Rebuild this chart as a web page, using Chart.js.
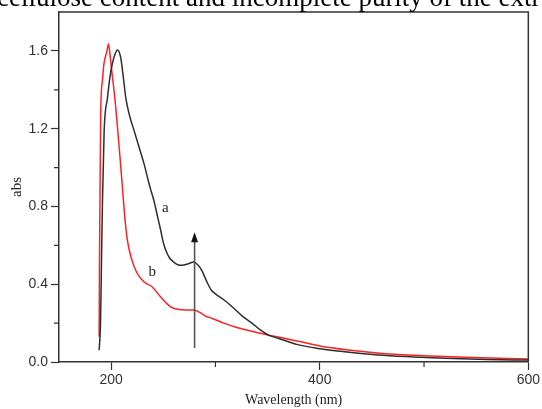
<!DOCTYPE html>
<html>
<head>
<meta charset="utf-8">
<script src="https://cdn.jsdelivr.net/npm/chart.js@4/dist/chart.umd.min.js"></script>
<style>
  body { margin: 0; background: #fff; }
  #wrap { position: relative; width: 542px; height: 409px; overflow: hidden; }
  #caption {
    position: absolute; left: -3px; top: -16px; white-space: nowrap;
    font: 27px/27px "Liberation Serif", "Times New Roman", serif; color: #000;
  }
  canvas { position: absolute; left: 0; top: 0; }
</style>
</head>
<body>
<div id="wrap">
  <canvas id="uv" width="542" height="409"></canvas>
  <div id="caption">cellulose content and incomplete purity of the extr</div>
</div>
<script>
// curve a (black)
const wavelengthA = [188.5, 189.8, 190.7, 191.7, 193.3, 196.5, 199, 201, 203.5, 206, 209, 212, 214, 218, 222, 226.5, 231.5, 235.5, 238, 241, 244, 247.4, 250, 252, 256, 260, 264, 268, 274, 279, 283, 287, 292, 296, 300, 308, 316, 325, 335, 343, 351, 360, 368, 380, 398, 420, 456, 490, 520, 560, 600];
const absA = [0.06, 0.2, 0.5, 0.83, 1.19, 1.36, 1.47, 1.53, 1.58, 1.605, 1.57, 1.45, 1.36, 1.26, 1.19, 1.11, 1.02, 0.935, 0.885, 0.83, 0.76, 0.68, 0.615, 0.58, 0.535, 0.514, 0.5, 0.497, 0.505, 0.514, 0.5, 0.47, 0.41, 0.37, 0.35, 0.32, 0.284, 0.24, 0.2, 0.165, 0.138, 0.122, 0.108, 0.088, 0.07, 0.055, 0.036, 0.026, 0.019, 0.013, 0.01];

// curve b (red)
const wavelengthB = [188.5, 188.8, 189.3, 190, 191.7, 193, 195, 196, 197.4, 198.5, 200.5, 203.5, 206.5, 209, 211.5, 213.5, 215.6, 219, 225, 232, 239.4, 247.4, 257, 265, 272, 279, 285, 291, 297, 308, 319, 335, 351, 368, 385, 400, 430, 460, 500, 540, 600];
const absB = [0.13, 0.5, 0.83, 1.28, 1.45, 1.53, 1.58, 1.6, 1.635, 1.6, 1.5, 1.36, 1.18, 1.02, 0.85, 0.72, 0.625, 0.54, 0.455, 0.41, 0.386, 0.335, 0.284, 0.27, 0.268, 0.267, 0.255, 0.235, 0.224, 0.2, 0.18, 0.158, 0.138, 0.12, 0.1, 0.082, 0.06, 0.044, 0.032, 0.024, 0.015];

const xMajorTicks = [200, 400, 600];
const xMinorTicks = [300, 500];
const yMajorTicks = [0, 0.4, 0.8, 1.2, 1.6];
const yMinorTicks = [0.2, 0.6, 1.0, 1.4];

const curveLabels = [
  { text: "a", x: 252, y: 0.79 },
  { text: "b", x: 239.4, y: 0.463 },
];
const arrowAt = { x: 280, from: 0.072, to: 0.667 };

function toPoints(xs, ys) {
  return xs.map((x, i) => ({ x: x, y: ys[i] }));
}

const axisColor = "#333";

const extras = {
  id: "extras",
  afterDraw(chart) {
    const ctx = chart.ctx;
    const area = chart.chartArea;
    const xs = chart.scales.x;
    const ys = chart.scales.y;
    ctx.save();
    // frame top + right
    ctx.strokeStyle = axisColor;
    ctx.lineWidth = 1.5;
    ctx.beginPath();
    ctx.moveTo(area.left, area.top);
    ctx.lineTo(area.right, area.top);
    ctx.lineTo(area.right, area.bottom);
    ctx.stroke();
    // minor ticks
    ctx.lineWidth = 1.2;
    ctx.beginPath();
    for (const v of xMinorTicks) {
      const px = xs.getPixelForValue(v);
      ctx.moveTo(px, area.bottom);
      ctx.lineTo(px, area.bottom + 5);
    }
    for (const v of yMinorTicks) {
      const py = ys.getPixelForValue(v);
      ctx.moveTo(area.left, py);
      ctx.lineTo(area.left - 5, py);
    }
    ctx.stroke();
    // arrow
    const ax = xs.getPixelForValue(arrowAt.x);
    const y0 = ys.getPixelForValue(arrowAt.from);
    const y1 = ys.getPixelForValue(arrowAt.to);
    ctx.strokeStyle = "#555";
    ctx.lineWidth = 1.6;
    ctx.beginPath();
    ctx.moveTo(ax, y0);
    ctx.lineTo(ax, y1 + 8);
    ctx.stroke();
    ctx.fillStyle = "#111";
    ctx.beginPath();
    ctx.moveTo(ax, y1);
    ctx.lineTo(ax - 3.5, y1 + 10);
    ctx.lineTo(ax + 3.5, y1 + 10);
    ctx.closePath();
    ctx.fill();
    // curve labels
    ctx.fillStyle = "#222";
    ctx.font = '15px "Liberation Serif", serif';
    ctx.textAlign = "center";
    ctx.textBaseline = "middle";
    for (const l of curveLabels) {
      ctx.fillText(l.text, xs.getPixelForValue(l.x), ys.getPixelForValue(l.y));
    }
    ctx.restore();
  },
};

new Chart(document.getElementById("uv"), {
  type: "line",
  data: {
    datasets: [
      {
        label: "a",
        data: toPoints(wavelengthA, absA),
        borderColor: "#2e2e2e",
        borderWidth: 1.5,
        pointRadius: 0,
        cubicInterpolationMode: "monotone",
      },
      {
        label: "b",
        data: toPoints(wavelengthB, absB),
        borderColor: "#ff2222",
        borderWidth: 1.5,
        pointRadius: 0,
        cubicInterpolationMode: "monotone",
      },
    ],
  },
  options: {
    responsive: false,
    animation: false,
    layout: { padding: { left: 0, top: 12, right: 11, bottom: 0 } },
    plugins: { legend: { display: false }, tooltip: { enabled: false } },
    scales: {
      x: {
        type: "linear",
        min: 150,
        max: 600,
        afterBuildTicks: (s) => { s.ticks = xMajorTicks.map((v) => ({ value: v })); },
        afterFit: (s) => { s.height = 47; },
        grid: { display: true, drawOnChartArea: false, drawTicks: true, tickLength: 8, tickColor: axisColor, tickWidth: 1.2 },
        border: { display: true, color: axisColor, width: 1.5 },
        ticks: { color: "#333", font: { family: '"Liberation Sans", Arial, sans-serif', size: 14 }, padding: 2, maxRotation: 0 },
        title: { display: true, text: "Wavelength (nm)", color: "#222", font: { family: '"Liberation Serif", serif', size: 14 }, padding: { top: 0, bottom: 0 } },
      },
      y: {
        type: "linear",
        min: 0,
        max: 1.8,
        afterBuildTicks: (s) => { s.ticks = yMajorTicks.map((v) => ({ value: v })); },
        afterFit: (s) => { s.width = 59; },
        grid: { display: true, drawOnChartArea: false, drawTicks: true, tickLength: 8, tickColor: axisColor, tickWidth: 1.2 },
        border: { display: true, color: axisColor, width: 1.5 },
        ticks: { color: "#333", font: { family: '"Liberation Sans", Arial, sans-serif', size: 14 }, padding: 3, callback: (v) => v.toFixed(1) },
        title: { display: true, text: "abs", color: "#222", font: { family: '"Liberation Serif", serif', size: 15 }, padding: { top: 8, bottom: 0 } },
      },
    },
  },
  plugins: [extras],
});
</script>
</body>
</html>
